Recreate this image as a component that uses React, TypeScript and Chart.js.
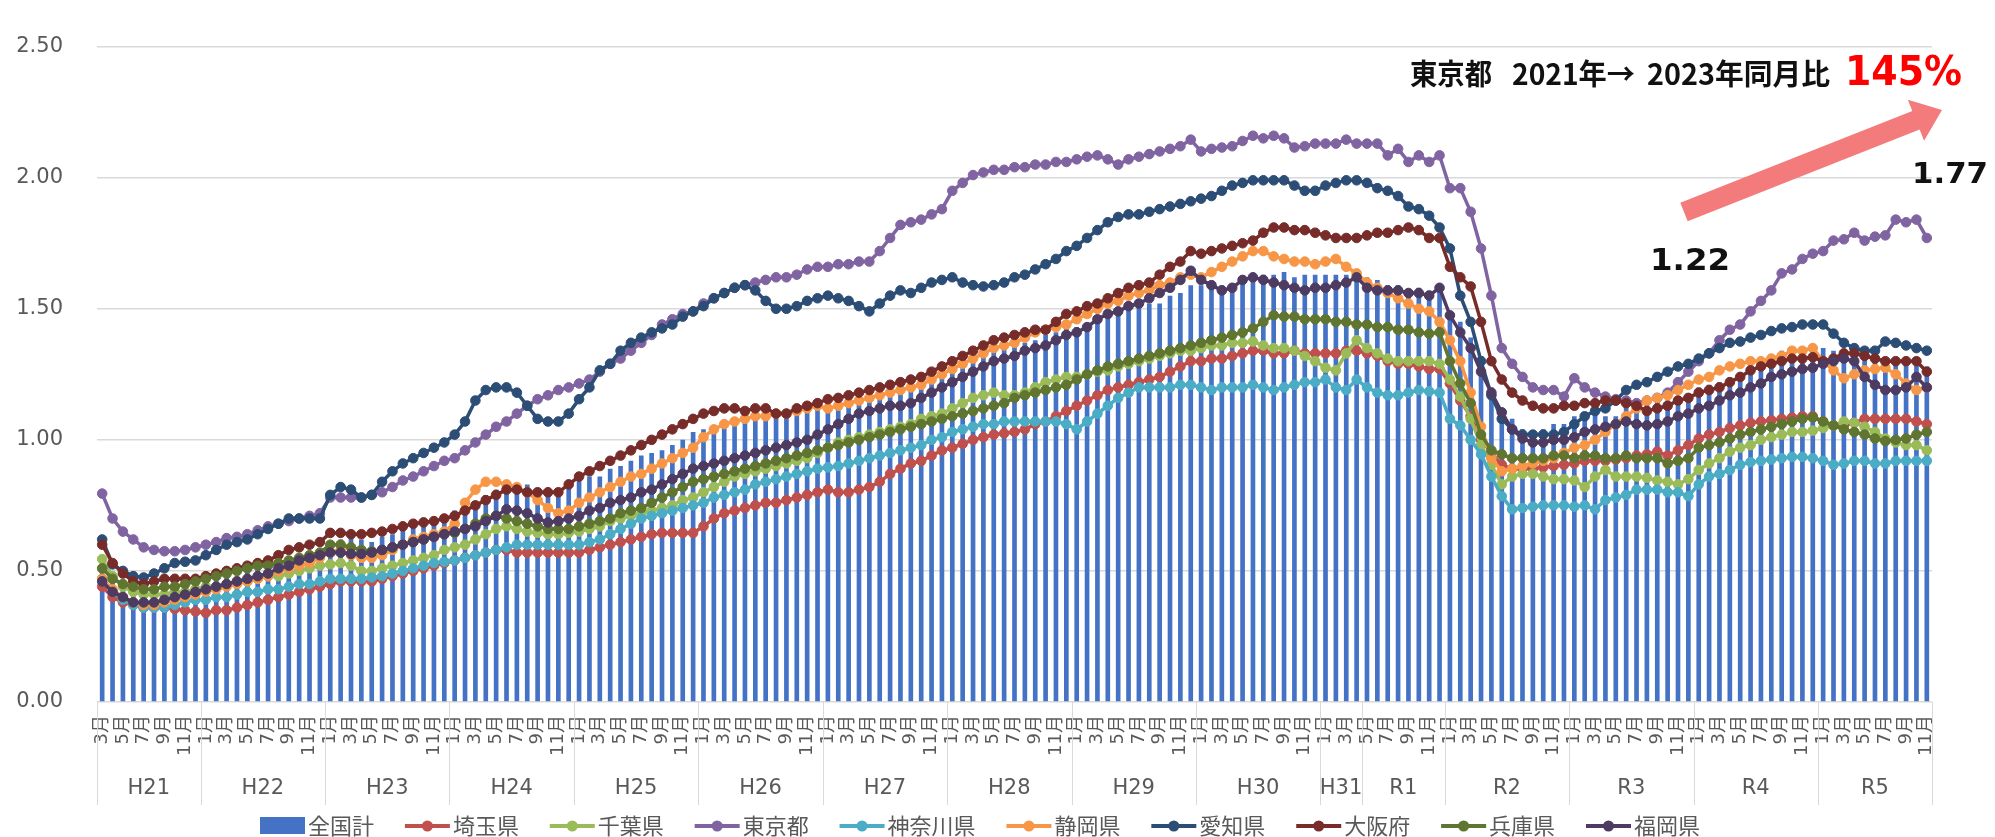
import React, { useEffect, useRef } from 'react';
import Chart from 'chart.js/auto';

// ---- x categories (year groups and months) ----
const yearGroups = ['H21', 'H22', 'H23', 'H24', 'H25', 'H26', 'H27', 'H28', 'H29', 'H30', 'H31', 'R1', 'R2', 'R3', 'R4', 'R5'];
const groupStartMonth = [3, 1, 1, 1, 1, 1, 1, 1, 1, 1, 1, 5, 1, 1, 1, 1];
const groupSize = [10, 12, 12, 12, 12, 12, 12, 12, 12, 12, 4, 8, 12, 12, 12, 11];
const yTicks = [0, 0.5, 1.0, 1.5, 2.0, 2.5];

const seriesNames = ['全国計', '埼玉県', '千葉県', '東京都', '神奈川県', '静岡県', '愛知県', '大阪府', '兵庫県', '福岡県'];
const seriesColors = ['#4472C4', '#C0504D', '#9BBB59', '#8064A2', '#4BACC6', '#F79646', '#2C4D75', '#772C2A', '#5F7530', '#4D3B62'];

// ---- values (2009/3 .. 2023/11, one row per year) ----
const national = [
  0.52, 0.46, 0.44, 0.43, 0.42, 0.42, 0.43, 0.44, 0.45, 0.46,
  0.46, 0.47, 0.48, 0.48, 0.50, 0.51, 0.53, 0.54, 0.55, 0.56, 0.57, 0.57,
  0.61, 0.62, 0.63, 0.62, 0.61, 0.63, 0.64, 0.66, 0.67, 0.68, 0.69, 0.71,
  0.73, 0.75, 0.76, 0.79, 0.81, 0.82, 0.83, 0.83, 0.81, 0.80, 0.80, 0.83,
  0.85, 0.86, 0.86, 0.89, 0.90, 0.92, 0.94, 0.95, 0.96, 0.98, 1.00, 1.03,
  1.04, 1.05, 1.07, 1.08, 1.09, 1.10, 1.10, 1.10, 1.09, 1.10, 1.12, 1.14,
  1.14, 1.15, 1.15, 1.17, 1.19, 1.19, 1.21, 1.23, 1.24, 1.24, 1.25, 1.27,
  1.28, 1.28, 1.30, 1.34, 1.36, 1.37, 1.37, 1.37, 1.38, 1.40, 1.41, 1.43,
  1.43, 1.43, 1.45, 1.48, 1.49, 1.51, 1.52, 1.52, 1.52, 1.55, 1.56, 1.59,
  1.59, 1.58, 1.59, 1.59, 1.60, 1.62, 1.63, 1.63, 1.64, 1.62, 1.63, 1.63,
  1.63, 1.63, 1.63, 1.63, 1.62, 1.61, 1.59, 1.59, 1.57, 1.58, 1.57, 1.57,
  1.49, 1.45, 1.39, 1.32, 1.20, 1.11, 1.08, 1.04, 1.03, 1.04, 1.06, 1.06,
  1.09, 1.09, 1.10, 1.09, 1.09, 1.13, 1.15, 1.14, 1.16, 1.15, 1.16, 1.17,
  1.20, 1.21, 1.22, 1.23, 1.24, 1.27, 1.29, 1.32, 1.34, 1.35, 1.35, 1.36,
  1.35, 1.34, 1.32, 1.32, 1.31, 1.30, 1.29, 1.29, 1.29, 1.30, 1.28,
];
const saitama = [
  0.44, 0.40, 0.38, 0.37, 0.36, 0.36, 0.36, 0.355, 0.35, 0.345,
  0.34, 0.35, 0.35, 0.36, 0.37, 0.38, 0.39, 0.40, 0.41, 0.42, 0.43, 0.44,
  0.45, 0.46, 0.46, 0.46, 0.46, 0.47, 0.48, 0.49, 0.50, 0.51, 0.52, 0.53,
  0.54, 0.55, 0.56, 0.57, 0.58, 0.58, 0.57, 0.57, 0.57, 0.57, 0.57, 0.57,
  0.57, 0.58, 0.59, 0.60, 0.61, 0.62, 0.63, 0.64, 0.645, 0.645, 0.645, 0.645,
  0.67, 0.70, 0.72, 0.73, 0.74, 0.75, 0.76, 0.76, 0.77, 0.78, 0.79, 0.80,
  0.81, 0.80, 0.80, 0.81, 0.82, 0.84, 0.87, 0.89, 0.91, 0.92, 0.94, 0.96,
  0.97, 0.985, 1.00, 1.01, 1.02, 1.025, 1.03, 1.04, 1.06, 1.07, 1.09, 1.11,
  1.13, 1.15, 1.17, 1.19, 1.20, 1.21, 1.22, 1.23, 1.24, 1.26, 1.28, 1.30,
  1.30, 1.31, 1.31, 1.32, 1.33, 1.34, 1.34, 1.33, 1.33, 1.34, 1.33, 1.33,
  1.33, 1.33, 1.34, 1.34, 1.33, 1.32, 1.30, 1.29, 1.29, 1.28, 1.27, 1.27,
  1.215, 1.15, 1.09, 1.00, 0.95, 0.905, 0.89, 0.89, 0.89, 0.895, 0.90, 0.905,
  0.91, 0.92, 0.92, 0.92, 0.925, 0.93, 0.94, 0.945, 0.955, 0.94, 0.96, 0.98,
  1.005, 1.02, 1.03, 1.045, 1.055, 1.065, 1.07, 1.075, 1.08, 1.085, 1.09, 1.09,
  1.07, 1.055, 1.055, 1.065, 1.08, 1.08, 1.08, 1.08, 1.08, 1.07, 1.06,
];
const chiba = [
  0.545, 0.48, 0.44, 0.42, 0.41, 0.41, 0.41, 0.42, 0.42, 0.43,
  0.44, 0.44, 0.45, 0.46, 0.46, 0.47, 0.48, 0.48, 0.49, 0.50, 0.51, 0.52,
  0.525, 0.53, 0.52, 0.50, 0.50, 0.51, 0.52, 0.53, 0.54, 0.55, 0.56, 0.58,
  0.59, 0.60, 0.62, 0.64, 0.66, 0.67, 0.66, 0.65, 0.645, 0.64, 0.64, 0.645,
  0.65, 0.66, 0.67, 0.69, 0.70, 0.71, 0.72, 0.73, 0.74, 0.75, 0.77, 0.78,
  0.80, 0.82, 0.84, 0.86, 0.87, 0.88, 0.89, 0.90, 0.91, 0.92, 0.93, 0.95,
  0.97, 0.99, 1.00, 1.01, 1.02, 1.03, 1.04, 1.05, 1.06, 1.08, 1.09, 1.10,
  1.12, 1.14, 1.16, 1.17, 1.18, 1.17, 1.17, 1.18, 1.20, 1.22, 1.23, 1.24,
  1.24, 1.25, 1.26, 1.265, 1.28, 1.29, 1.30, 1.31, 1.32, 1.33, 1.34, 1.34,
  1.35, 1.36, 1.36, 1.37, 1.37, 1.375, 1.36, 1.35, 1.35, 1.34, 1.32, 1.30,
  1.275, 1.265, 1.33, 1.38, 1.35, 1.33, 1.31, 1.30, 1.30, 1.30, 1.30, 1.29,
  1.23, 1.165, 1.08, 0.98, 0.905, 0.83, 0.86, 0.87, 0.87, 0.86, 0.85, 0.85,
  0.845, 0.82, 0.86, 0.885, 0.86, 0.86, 0.86, 0.855, 0.845, 0.84, 0.83, 0.85,
  0.885, 0.91, 0.93, 0.955, 0.97, 0.98, 1.00, 1.01, 1.02, 1.03, 1.03, 1.035,
  1.045, 1.055, 1.07, 1.065, 1.05, 1.03, 1.005, 0.99, 0.98, 0.98, 0.96,
];
const tokyo = [
  0.795, 0.70, 0.65, 0.62, 0.59, 0.58, 0.575, 0.575, 0.58, 0.59,
  0.60, 0.61, 0.625, 0.63, 0.64, 0.655, 0.67, 0.68, 0.69, 0.70, 0.71, 0.72,
  0.78, 0.78, 0.78, 0.78, 0.79, 0.80, 0.82, 0.845, 0.86, 0.88, 0.90, 0.92,
  0.93, 0.96, 0.99, 1.02, 1.05, 1.07, 1.10, 1.13, 1.155, 1.17, 1.19, 1.20,
  1.215, 1.23, 1.26, 1.29, 1.31, 1.34, 1.37, 1.40, 1.44, 1.46, 1.48, 1.49,
  1.52, 1.54, 1.56, 1.58, 1.59, 1.60, 1.61, 1.62, 1.62, 1.63, 1.65, 1.66,
  1.66, 1.67, 1.67, 1.68, 1.68, 1.72, 1.77, 1.82, 1.83, 1.84, 1.86, 1.88,
  1.95, 1.98, 2.01, 2.02, 2.03, 2.03, 2.04, 2.04, 2.05, 2.05, 2.06, 2.06,
  2.07, 2.08, 2.085, 2.07, 2.05, 2.07, 2.08, 2.09, 2.10, 2.11, 2.12, 2.145,
  2.10, 2.11, 2.115, 2.12, 2.14, 2.16, 2.15, 2.16, 2.15, 2.115, 2.12, 2.13,
  2.13, 2.13, 2.145, 2.13, 2.13, 2.13, 2.085, 2.11, 2.06, 2.085, 2.06, 2.085,
  1.96, 1.96, 1.87, 1.73, 1.55, 1.35, 1.29, 1.24, 1.20, 1.19, 1.19, 1.165,
  1.235, 1.20, 1.18, 1.165, 1.155, 1.15, 1.14, 1.15, 1.16, 1.18, 1.22, 1.26,
  1.30, 1.33, 1.38, 1.42, 1.44, 1.49, 1.53, 1.57, 1.635, 1.65, 1.69, 1.71,
  1.72, 1.76, 1.765, 1.79, 1.76, 1.775, 1.78, 1.84, 1.83, 1.84, 1.77,
];
const kanagawa = [
  0.47, 0.42, 0.39, 0.37, 0.36, 0.36, 0.36, 0.37, 0.38, 0.39,
  0.39, 0.40, 0.40, 0.41, 0.42, 0.42, 0.43, 0.43, 0.44, 0.45, 0.45, 0.46,
  0.47, 0.47, 0.47, 0.47, 0.475, 0.48, 0.49, 0.50, 0.51, 0.52, 0.53, 0.535,
  0.54, 0.55, 0.56, 0.57, 0.58, 0.59, 0.60, 0.60, 0.60, 0.60, 0.60, 0.60,
  0.60, 0.61, 0.62, 0.64, 0.66, 0.68, 0.70, 0.71, 0.72, 0.73, 0.74, 0.75,
  0.76, 0.78, 0.79, 0.80, 0.81, 0.83, 0.84, 0.85, 0.86, 0.87, 0.88, 0.89,
  0.895, 0.90, 0.91, 0.92, 0.93, 0.94, 0.95, 0.96, 0.97, 0.98, 1.00, 1.01,
  1.03, 1.04, 1.05, 1.06, 1.06, 1.07, 1.07, 1.07, 1.07, 1.07, 1.07, 1.06,
  1.04, 1.07, 1.10, 1.13, 1.16, 1.18, 1.20, 1.20, 1.20, 1.20, 1.21, 1.21,
  1.20, 1.19, 1.20, 1.20, 1.20, 1.21, 1.20, 1.19, 1.20, 1.21, 1.22, 1.22,
  1.23, 1.20, 1.19, 1.23, 1.20, 1.18, 1.17, 1.17, 1.18, 1.19, 1.185, 1.18,
  1.08, 1.055, 1.00, 0.945, 0.86, 0.785, 0.735, 0.74, 0.745, 0.75, 0.75, 0.75,
  0.745, 0.75, 0.735, 0.77, 0.78, 0.79, 0.81, 0.81, 0.81, 0.80, 0.80, 0.785,
  0.83, 0.86, 0.87, 0.885, 0.905, 0.915, 0.92, 0.925, 0.93, 0.935, 0.935, 0.93,
  0.92, 0.905, 0.91, 0.92, 0.92, 0.91, 0.91, 0.92, 0.92, 0.92, 0.92,
];
const shizuoka = [
  0.47, 0.43, 0.40, 0.38, 0.37, 0.37, 0.38, 0.39, 0.40, 0.41,
  0.42, 0.43, 0.44, 0.45, 0.46, 0.47, 0.48, 0.50, 0.51, 0.52, 0.53, 0.55,
  0.57, 0.58, 0.56, 0.55, 0.55, 0.56, 0.58, 0.60, 0.62, 0.63, 0.64, 0.65,
  0.68, 0.76, 0.81, 0.84, 0.84, 0.83, 0.82, 0.80, 0.77, 0.74, 0.72, 0.73,
  0.76, 0.78, 0.80, 0.82, 0.84, 0.86, 0.87, 0.89, 0.91, 0.93, 0.95, 0.97,
  1.01, 1.04, 1.06, 1.07, 1.08, 1.09, 1.09, 1.10, 1.10, 1.11, 1.12, 1.13,
  1.12, 1.13, 1.14, 1.15, 1.16, 1.17, 1.18, 1.19, 1.20, 1.21, 1.23, 1.25,
  1.27, 1.29, 1.31, 1.33, 1.35, 1.36, 1.37, 1.39, 1.41, 1.42, 1.43, 1.44,
  1.46, 1.48, 1.50, 1.52, 1.53, 1.55, 1.56, 1.57, 1.59, 1.60, 1.62, 1.63,
  1.62, 1.64, 1.66, 1.68, 1.70, 1.72, 1.72, 1.70, 1.69, 1.68, 1.68, 1.67,
  1.68, 1.69, 1.66, 1.635, 1.60, 1.58, 1.56, 1.54, 1.52, 1.50, 1.49, 1.45,
  1.38, 1.30, 1.18, 1.05, 0.93, 0.88, 0.89, 0.90, 0.91, 0.92, 0.93, 0.95,
  0.97, 0.98, 1.00, 1.03, 1.06, 1.09, 1.12, 1.15, 1.16, 1.17, 1.19, 1.21,
  1.23, 1.24, 1.265, 1.28, 1.29, 1.30, 1.30, 1.31, 1.32, 1.34, 1.34, 1.35,
  1.30, 1.265, 1.235, 1.25, 1.265, 1.27, 1.275, 1.25, 1.215, 1.19, 1.20,
];
const aichi = [
  0.62, 0.525, 0.50, 0.48, 0.475, 0.49, 0.51, 0.53, 0.535, 0.54,
  0.56, 0.58, 0.60, 0.61, 0.62, 0.64, 0.66, 0.68, 0.70, 0.70, 0.70, 0.70,
  0.79, 0.82, 0.81, 0.78, 0.79, 0.84, 0.88, 0.91, 0.93, 0.95, 0.97, 0.99,
  1.02, 1.07, 1.15, 1.19, 1.20, 1.20, 1.18, 1.13, 1.08, 1.07, 1.07, 1.10,
  1.155, 1.20, 1.265, 1.29, 1.34, 1.37, 1.39, 1.41, 1.425, 1.44, 1.47, 1.49,
  1.51, 1.54, 1.56, 1.58, 1.59, 1.57, 1.53, 1.50, 1.50, 1.51, 1.53, 1.54,
  1.55, 1.54, 1.53, 1.51, 1.49, 1.52, 1.55, 1.57, 1.56, 1.58, 1.60, 1.61,
  1.62, 1.60, 1.59, 1.585, 1.59, 1.60, 1.62, 1.63, 1.65, 1.67, 1.69, 1.72,
  1.74, 1.77, 1.80, 1.83, 1.85, 1.86, 1.86, 1.87, 1.88, 1.89, 1.90, 1.91,
  1.92, 1.93, 1.95, 1.97, 1.98, 1.99, 1.99, 1.99, 1.99, 1.97, 1.95, 1.95,
  1.97, 1.98, 1.99, 1.99, 1.98, 1.96, 1.95, 1.93, 1.89, 1.88, 1.855, 1.81,
  1.73, 1.55, 1.45, 1.30, 1.17, 1.08, 1.04, 1.02, 1.02, 1.02, 1.02, 1.03,
  1.06, 1.09, 1.11, 1.12, 1.15, 1.19, 1.21, 1.22, 1.24, 1.26, 1.28, 1.29,
  1.31, 1.33, 1.35, 1.37, 1.375, 1.39, 1.40, 1.415, 1.425, 1.43, 1.44, 1.44,
  1.44, 1.405, 1.37, 1.35, 1.34, 1.34, 1.375, 1.37, 1.36, 1.35, 1.34,
];
const osaka = [
  0.60, 0.53, 0.49, 0.46, 0.45, 0.46, 0.47, 0.47, 0.47, 0.47,
  0.48, 0.49, 0.50, 0.51, 0.52, 0.53, 0.54, 0.56, 0.58, 0.59, 0.60, 0.61,
  0.645, 0.645, 0.64, 0.64, 0.645, 0.65, 0.66, 0.67, 0.68, 0.685, 0.69, 0.70,
  0.71, 0.73, 0.75, 0.77, 0.79, 0.81, 0.81, 0.80, 0.80, 0.80, 0.80, 0.83,
  0.86, 0.88, 0.90, 0.92, 0.94, 0.96, 0.98, 1.00, 1.02, 1.04, 1.06, 1.08,
  1.10, 1.11, 1.12, 1.12, 1.11, 1.12, 1.12, 1.10, 1.10, 1.12, 1.13, 1.14,
  1.155, 1.16, 1.17, 1.18, 1.19, 1.20, 1.21, 1.22, 1.23, 1.24, 1.26, 1.28,
  1.30, 1.32, 1.34, 1.36, 1.38, 1.39, 1.40, 1.41, 1.42, 1.42, 1.45, 1.48,
  1.49, 1.51, 1.52, 1.54, 1.56, 1.58, 1.59, 1.60, 1.63, 1.66, 1.68, 1.72,
  1.71, 1.72, 1.73, 1.74, 1.75, 1.76, 1.79, 1.81, 1.81, 1.80, 1.80, 1.79,
  1.78, 1.77, 1.77, 1.77, 1.78, 1.79, 1.79, 1.80, 1.81, 1.80, 1.77, 1.77,
  1.66, 1.62, 1.585, 1.45, 1.30, 1.23, 1.18, 1.15, 1.13, 1.12, 1.12, 1.13,
  1.13, 1.14, 1.14, 1.15, 1.15, 1.14, 1.13, 1.11, 1.12, 1.13, 1.15, 1.16,
  1.18, 1.19, 1.20, 1.22, 1.24, 1.265, 1.28, 1.29, 1.30, 1.31, 1.31, 1.315,
  1.30, 1.31, 1.33, 1.33, 1.32, 1.31, 1.30, 1.30, 1.30, 1.30, 1.26,
];
const hyogo = [
  0.51, 0.47, 0.45, 0.44, 0.43, 0.43, 0.44, 0.44, 0.45, 0.46,
  0.47, 0.48, 0.49, 0.50, 0.51, 0.52, 0.52, 0.53, 0.54, 0.55, 0.56, 0.57,
  0.60, 0.60, 0.59, 0.58, 0.575, 0.58, 0.59, 0.60, 0.61, 0.62, 0.63, 0.64,
  0.645, 0.66, 0.68, 0.70, 0.71, 0.70, 0.69, 0.68, 0.67, 0.66, 0.66, 0.66,
  0.67, 0.68, 0.69, 0.70, 0.72, 0.73, 0.74, 0.76, 0.78, 0.80, 0.82, 0.84,
  0.85, 0.86, 0.87, 0.88, 0.89, 0.90, 0.91, 0.92, 0.93, 0.94, 0.95, 0.96,
  0.97, 0.98, 0.99, 1.00, 1.01, 1.02, 1.03, 1.04, 1.05, 1.06, 1.07, 1.08,
  1.09, 1.10, 1.11, 1.12, 1.13, 1.14, 1.16, 1.17, 1.18, 1.19, 1.20, 1.21,
  1.23, 1.25, 1.265, 1.28, 1.29, 1.30, 1.31, 1.32, 1.33, 1.34, 1.35, 1.36,
  1.37, 1.38, 1.39, 1.40, 1.41, 1.425, 1.45, 1.475, 1.47, 1.47, 1.46, 1.46,
  1.46, 1.45, 1.45, 1.44, 1.44, 1.43, 1.43, 1.42, 1.42, 1.41, 1.405, 1.41,
  1.30, 1.215, 1.14, 1.02, 0.96, 0.945, 0.93, 0.93, 0.93, 0.93, 0.94, 0.94,
  0.93, 0.94, 0.94, 0.93, 0.93, 0.94, 0.93, 0.93, 0.93, 0.91, 0.92, 0.93,
  0.97, 0.98, 0.99, 1.005, 1.02, 1.03, 1.04, 1.05, 1.06, 1.07, 1.08, 1.085,
  1.07, 1.055, 1.04, 1.03, 1.02, 1.005, 0.995, 1.00, 1.005, 1.02, 1.03,
];
const fukuoka = [
  0.46, 0.42, 0.40, 0.38, 0.38, 0.38, 0.39, 0.40, 0.41, 0.42,
  0.43, 0.44, 0.45, 0.46, 0.47, 0.48, 0.49, 0.51, 0.52, 0.54, 0.55, 0.56,
  0.57, 0.57, 0.565, 0.565, 0.57, 0.58, 0.59, 0.60, 0.61, 0.62, 0.63, 0.64,
  0.65, 0.66, 0.67, 0.69, 0.71, 0.735, 0.73, 0.72, 0.70, 0.685, 0.69, 0.70,
  0.71, 0.73, 0.74, 0.76, 0.77, 0.78, 0.80, 0.81, 0.83, 0.85, 0.87, 0.89,
  0.90, 0.91, 0.92, 0.93, 0.94, 0.95, 0.96, 0.97, 0.98, 0.99, 1.00, 1.02,
  1.04, 1.06, 1.08, 1.10, 1.11, 1.12, 1.13, 1.13, 1.14, 1.16, 1.18, 1.20,
  1.22, 1.24, 1.26, 1.28, 1.30, 1.31, 1.32, 1.34, 1.35, 1.36, 1.38, 1.40,
  1.41, 1.43, 1.46, 1.48, 1.49, 1.51, 1.52, 1.54, 1.56, 1.58, 1.61, 1.645,
  1.61, 1.59, 1.57, 1.58, 1.61, 1.62, 1.61, 1.60, 1.59, 1.58, 1.57, 1.58,
  1.58, 1.59, 1.60, 1.62, 1.58, 1.57, 1.57, 1.57, 1.56, 1.56, 1.55, 1.58,
  1.475, 1.41, 1.35, 1.26, 1.18, 1.105, 1.04, 1.005, 0.99, 0.99, 1.00, 1.00,
  1.01, 1.03, 1.04, 1.05, 1.06, 1.07, 1.06, 1.055, 1.06, 1.07, 1.09, 1.10,
  1.12, 1.13, 1.15, 1.17, 1.18, 1.20, 1.215, 1.24, 1.25, 1.26, 1.27, 1.275,
  1.29, 1.30, 1.31, 1.30, 1.24, 1.21, 1.19, 1.19, 1.20, 1.24, 1.20,
];
const lineSeries = [saitama, chiba, tokyo, kanagawa, shizuoka, aichi, osaka, hyogo, fukuoka];

// annotation texts
const noteLabel = '東京都';
const noteFrom = '2021年→';
const noteTo = '2023年同月比';
const notePct = '145%';
const noteStart = '1.22';
const noteEnd = '1.77';

const FONT = "'DejaVu Sans', 'Noto Sans CJK JP', sans-serif";
const CJK = "'Noto Sans CJK JP', sans-serif";
const GREY = '#595959';

// month numbers for each category
const monthNums: number[] = [];
yearGroups.forEach((_, g) => {
  for (let k = 0; k < groupSize[g]; k++) monthNums.push(groupStartMonth[g] + k);
});
const categories = monthNums.map((m) => `${m}月`);

function fitText(ctx: CanvasRenderingContext2D, text: string, x: number, base: number, width: number, font: string, color: string) {
  ctx.save();
  ctx.font = font;
  const w = ctx.measureText(text).width;
  ctx.translate(x, base);
  ctx.scale(width / w, 1);
  ctx.fillStyle = color;
  ctx.textAlign = 'left';
  ctx.textBaseline = 'alphabetic';
  ctx.fillText(text, 0, 0);
  ctx.restore();
}

const groupPlugin = {
  id: 'yearGroups',
  afterDraw(chart: any) {
    const { ctx, chartArea } = chart;
    const xs = chart.scales.x;
    const n = categories.length;
    const slot = (xs.right - xs.left) / n;
    const top = chartArea.bottom;
    const bottom = chartArea.bottom + 103;
    ctx.save();
    ctx.strokeStyle = '#d9d9d9';
    ctx.lineWidth = 1;
    const vline = (x: number) => {
      ctx.beginPath();
      ctx.moveTo(Math.round(x) + 0.5, top);
      ctx.lineTo(Math.round(x) + 0.5, bottom);
      ctx.stroke();
    };
    let idx = 0;
    vline(xs.left);
    ctx.fillStyle = GREY;
    ctx.font = `21px ${FONT}`;
    ctx.textAlign = 'center';
    ctx.textBaseline = 'middle';
    yearGroups.forEach((name, g) => {
      const x0 = xs.left + idx * slot;
      idx += groupSize[g];
      const x1 = xs.left + idx * slot;
      vline(x1);
      ctx.fillText(name, (x0 + x1) / 2, 789);
    });
    ctx.restore();
  },
};

const legendPlugin = {
  id: 'customLegend',
  afterDraw(chart: any) {
    const ctx: CanvasRenderingContext2D = chart.ctx;
    ctx.save();
    ctx.font = `22px ${CJK}`;
    const sym = 45;
    const widths = seriesNames.map((s) => ctx.measureText(s).width);
    const startX = 260;
    const endX = 1700;
    const content = widths.reduce((a, b) => a + b, 0) + seriesNames.length * (sym + 3);
    const gap = (endX - startX - content) / (seriesNames.length - 1);
    let x = startX;
    const cy = 826;
    seriesNames.forEach((name, i) => {
      const col = seriesColors[i];
      if (i === 0) {
        ctx.fillStyle = col;
        ctx.fillRect(x, cy - 9, sym, 17);
      } else {
        ctx.strokeStyle = col;
        ctx.lineWidth = 4;
        ctx.beginPath();
        ctx.moveTo(x, cy);
        ctx.lineTo(x + sym, cy);
        ctx.stroke();
        ctx.fillStyle = col;
        ctx.beginPath();
        ctx.arc(x + sym / 2, cy, 5.5, 0, Math.PI * 2);
        ctx.fill();
      }
      ctx.fillStyle = GREY;
      ctx.textAlign = 'left';
      ctx.textBaseline = 'middle';
      ctx.fillText(name, x + sym + 3, cy);
      x += sym + 3 + widths[i] + gap;
    });
    ctx.restore();
  },
};

const notePlugin = {
  id: 'notes',
  afterDatasetsDraw(chart: any) {
    const ctx: CanvasRenderingContext2D = chart.ctx;
    ctx.save();
    // arrow
    const tx = 1684, ty = 212, hx = 1942, hy = 110;
    const dx = hx - tx, dy = hy - ty;
    const L = Math.hypot(dx, dy);
    const ux = dx / L, uy = dy / L, px = -uy, py = ux;
    const sw = 10, hw = 22, hl = 28;
    const bx = hx - ux * hl, by = hy - uy * hl;
    ctx.beginPath();
    ctx.moveTo(tx + px * sw, ty + py * sw);
    ctx.lineTo(bx + px * sw, by + py * sw);
    ctx.lineTo(bx + px * hw, by + py * hw);
    ctx.lineTo(hx, hy);
    ctx.lineTo(bx - px * hw, by - py * hw);
    ctx.lineTo(bx - px * sw, by - py * sw);
    ctx.lineTo(tx - px * sw, ty - py * sw);
    ctx.closePath();
    ctx.fillStyle = '#F47B7B';
    ctx.fill();
    ctx.restore();

    fitText(ctx, noteLabel, 1410, 85, 82, `bold 29px ${CJK}`, '#111');
    fitText(ctx, noteFrom, 1512, 85, 123, `bold 29px ${CJK}`, '#111');
    fitText(ctx, noteTo, 1647, 85, 183, `bold 29px ${CJK}`, '#111');
    fitText(ctx, notePct, 1845, 85, 117, `bold 40px 'DejaVu Sans', sans-serif`, '#FF0000');
    fitText(ctx, noteStart, 1650, 270, 80, `bold 31px 'DejaVu Sans', sans-serif`, '#111');
    fitText(ctx, noteEnd, 1912, 183, 76, `bold 29px 'DejaVu Sans', sans-serif`, '#111');
  },
};

export default function App() {
  const ref = useRef<HTMLCanvasElement>(null);
  useEffect(() => {
    if (!ref.current) return;
    Chart.defaults.font.family = FONT;
    const datasets: any[] = [
      {
        type: 'bar',
        label: seriesNames[0],
        data: national,
        backgroundColor: seriesColors[0],
        borderWidth: 0,
        barPercentage: 0.45,
        categoryPercentage: 1,
        order: 20,
      },
    ];
    lineSeries.forEach((vals, i) => {
      datasets.push({
        type: 'line',
        label: seriesNames[i + 1],
        data: vals,
        borderColor: seriesColors[i + 1],
        backgroundColor: seriesColors[i + 1],
        pointBackgroundColor: seriesColors[i + 1],
        pointBorderColor: seriesColors[i + 1],
        borderWidth: 3.5,
        pointRadius: 4.8,
        pointBorderWidth: 1,
        tension: 0,
        fill: false,
        order: 10 - i,
      });
    });
    const chart = new Chart(ref.current, {
      type: 'bar',
      data: { labels: categories, datasets },
      options: {
        animation: false,
        responsive: true,
        maintainAspectRatio: false,
        devicePixelRatio: 1,
        events: [],
        layout: { padding: { top: 26, right: 63, bottom: 32, left: 0 } },
        plugins: { legend: { display: false }, tooltip: { enabled: false } },
        scales: {
          x: {
            grid: { display: false, drawTicks: false },
            border: { display: false },
            ticks: {
              autoSkip: false,
              maxRotation: 90,
              minRotation: 90,
              padding: 13,
              color: GREY,
              font: { size: 18, family: FONT },
              callback: (_v: any, i: number) => (monthNums[i] % 2 === 1 ? categories[i] : ''),
            },
            afterFit: (s: any) => {
              s.height = 103;
            },
          },
          y: {
            min: yTicks[0],
            max: yTicks[yTicks.length - 1],
            afterBuildTicks: (s: any) => {
              s.ticks = yTicks.map((v) => ({ value: v }));
            },
            grid: { color: '#d9d9d9', lineWidth: 1.5, drawTicks: false },
            border: { display: false },
            ticks: {
              padding: 34,
              color: GREY,
              font: { size: 21, family: FONT },
              callback: (v: any) => Number(v).toFixed(2),
            },
            afterFit: (s: any) => {
              s.width = 97;
            },
          },
        },
      },
      plugins: [groupPlugin, legendPlugin, notePlugin],
    } as any);
    return () => chart.destroy();
  }, []);
  return (
    <div style={{ position: 'absolute', left: 0, top: 0, width: 1995, height: 837, background: '#fff' }}>
      <canvas ref={ref} />
    </div>
  );
}
